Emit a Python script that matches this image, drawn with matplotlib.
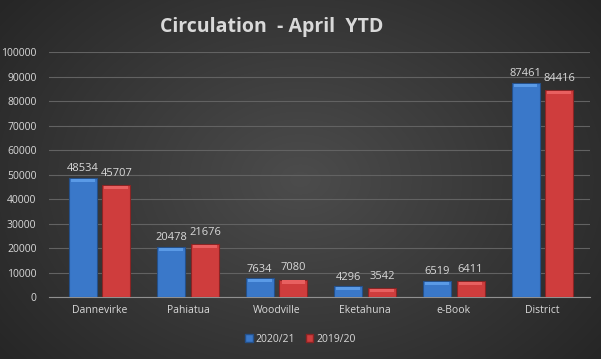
import numpy as np
import matplotlib
matplotlib.use("Agg")
import matplotlib.pyplot as plt
from matplotlib.patches import Patch

categories = ["Dannevirke", "Pahiatua", "Woodville", "Eketahuna", "e-Book", "District"]
series_names = ["2020/21", "2019/20"]
values_2021 = [48534, 20478, 7634, 4296, 6519, 87461]
values_1920 = [45707, 21676, 7080, 3542, 6411, 84416]
y_ticks = list(range(0, 100001, 10000))

text_col = "#d9d9d9"
blue = "#3a78c9"
red = "#cf3d3d"

plt.rcParams["font.family"] = ["Open Sans", "DejaVu Sans"]

fig = plt.figure(figsize=(6.01, 3.59), dpi=100)

# radial dark background, lighter in the middle
bg = fig.add_axes([0, 0, 1, 1], zorder=-10)
yy, xx = np.mgrid[-1:1:359j, -1:1:601j]
r = np.clip(np.sqrt(xx ** 2 + (yy * 0.8) ** 2) / 1.28, 0, 1)
inner = np.array([0x4c, 0x4c, 0x4c]) / 255
outer = np.array([0x26, 0x26, 0x26]) / 255
img = inner[None, None, :] * (1 - r[..., None]) + outer[None, None, :] * r[..., None]
bg.imshow(img, aspect="auto", extent=[0, 1, 0, 1])
bg.axis("off")

ax = fig.add_axes([0.0815, 0.1727, 0.9005, 0.6823])
ax.patch.set_alpha(0)

x = np.arange(len(categories))
w = 0.316
off = 0.19
b1 = ax.bar(x - off, values_2021, w, color=blue, edgecolor="#24508a", linewidth=0.8, zorder=3)
b2 = ax.bar(x + off, values_1920, w, color=red, edgecolor="#8a2424", linewidth=0.8, zorder=3)

# lighter bevel cap on top of each bar
cap = 1300
ax.bar(x - off, [cap] * len(x), w * 0.85, bottom=np.array(values_2021) - cap - 300,
       color="#5a9ae6", linewidth=0, zorder=4)
ax.bar(x + off, [cap] * len(x), w * 0.85, bottom=np.array(values_1920) - cap - 300,
       color="#e86060", linewidth=0, zorder=4)

for bars, vals, dy in [(b1, values_2021, 1500), (b2, values_1920, 2600)]:
    for b, v in zip(bars, vals):
        ax.text(b.get_x() + b.get_width() / 2, v + dy, str(v), ha="center",
                va="bottom", color=text_col, fontsize=8)

ax.set_xlim(-0.57, len(categories) - 0.46)
ax.set_ylim(0, 100000)
ax.set_yticks(y_ticks)
ax.set_yticklabels([str(t) for t in y_ticks])
ax.set_xticks(x)
ax.set_xticklabels(categories)
ax.tick_params(axis="both", colors=text_col, labelsize=7.5, length=0)
ax.tick_params(axis="y", pad=9)
ax.tick_params(axis="x", pad=6)
ax.grid(axis="y", color="#626262", linewidth=0.8, zorder=0)
for s in ["top", "right", "left"]:
    ax.spines[s].set_visible(False)
ax.spines["bottom"].set_color("#909090")

fig.text(0.4526, 0.925, "Circulation  - April  YTD", ha="center", va="center",
         color=text_col, fontsize=14, fontweight="bold")

handles = [Patch(facecolor=blue, edgecolor="#24508a"), Patch(facecolor=red, edgecolor="#8a2424")]
fig.legend(handles, series_names, loc="center", bbox_to_anchor=(0.5, 0.055), ncol=2,
           frameon=False, fontsize=7.5, labelcolor=text_col, handlelength=0.7,
           handleheight=0.7, handletextpad=0.3, columnspacing=1.0)

fig.savefig("out.png", dpi=100)
